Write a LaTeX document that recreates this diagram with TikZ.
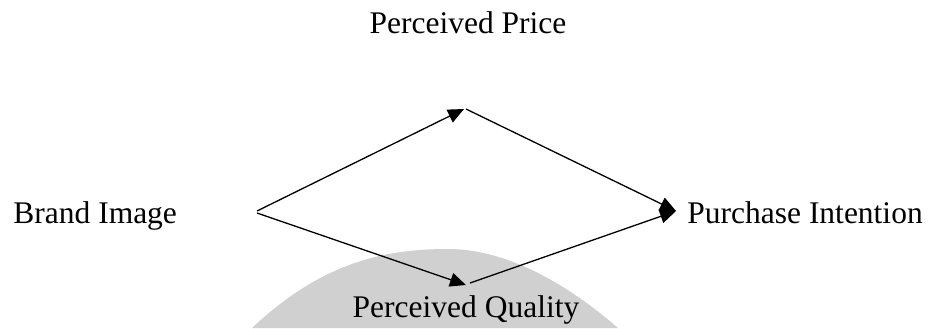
\documentclass[tikz,border=0pt]{standalone}
\usepackage{fontspec}
\setmainfont{Liberation Serif}
\usepackage{xcolor}
\usepackage{tikz}
\usetikzlibrary{arrows.meta, positioning}
\definecolor{markgray}{HTML}{D0D0D0}

\begin{document}
\begin{tikzpicture}[x=0.5pt, y=-0.5pt,
    font=\fontsize{15.75}{19}\selectfont,
    >={Triangle[length=8pt, width=7pt]},
    label/.style={inner sep=0pt, text=black},
    flow/.style={->, line width=0.65pt}]
  \useasboundingbox (0,0) rectangle (929,328);

  % Hintergrund (Logo)
  \fill[markgray] (252,328) .. controls (322,262) and (385,249) .. (448,249)
    .. controls (505,249) and (565,282) .. (618,328) -- cycle;

  % Variablen
  \node[label, anchor=base] (pp) at (468,33) {Perceived Price};
  \node[label, anchor=base west] (bi) at (13,223) {Brand Image};
  \node[label, anchor=base west] (pi) at (687,223) {Purchase Intention};
  \node[label, anchor=base] (pq) at (466,317) {Perceived Quality};

  % Endpunkte der Pfeile
  \coordinate (bi-up) at (257,211);
  \coordinate (bi-down) at (257,213);
  \coordinate (pp-in) at (464,109);
  \coordinate (pp-out) at (466,109);
  \coordinate (pq-in) at (466,285);
  \coordinate (pq-out) at (470,283);
  \coordinate (pi-in) at (676,211);

  % Pfeile
  \draw[flow] (bi-up) -- (pp-in);
  \draw[flow] (pp-out) -- (pi-in);
  \draw[flow] (bi-down) -- (pq-in);
  \draw[flow] (pq-out) -- (pi-in);
\end{tikzpicture}
\end{document}
